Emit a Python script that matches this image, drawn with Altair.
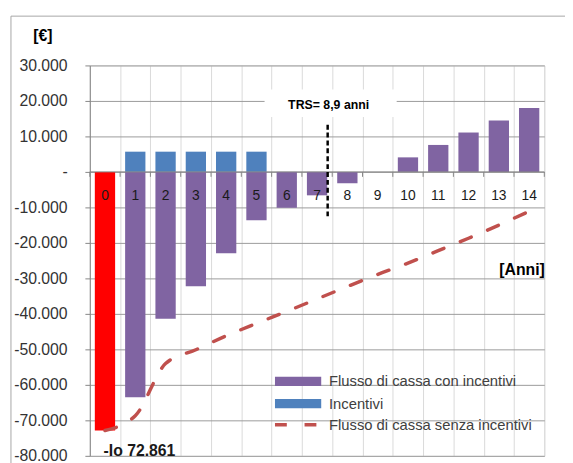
import altair as alt
import pandas as pd

# ---------------- data ----------------
years = list(range(15))
flusso_con_incentivi = [-72861, -63500, -41400, -32200, -22900, -13600, -10100,
                        -6600, -3200, 0, 4100, 7600, 11100, 14500, 18000]
incentivi = [0, 5700, 5700, 5700, 5700, 5700, 0, 0, 0, 0, 0, 0, 0, 0, 0]
flusso_senza_incentivi = [-72861, -68700, -54000, -50100, -46200, -42700, -39300,
                          -35800, -32300, -28900, -25700, -22200, -18700, -15000, -11100]
y_ticks = [30000, 20000, 10000, 0, -10000, -20000, -30000, -40000,
           -50000, -60000, -70000, -80000]
series_names = ["Flusso di cassa con incentivi", "Incentivi", "Flusso di cassa senza incentivi"]
series_colors = ["#8064A2", "#4F81BD", "#C0504D"]
investment_color = "#FF0000"
trs_text = ["TRS= 8,9 anni"]
trs_marker_x = [7.35]
trs_label_y = [18800]
trs_line_y = [13300, -12500]
x_unit_label = "[Anni]"
y_unit_label = "[€]"

FONT = "Liberation Sans"
BAR_HALF = 0.335

# ---------------- tables ----------------
bar_rows = []
for yr, c, inc in zip(years, flusso_con_incentivi, incentivi):
    if yr == 0:
        continue
    if c != 0:
        bar_rows.append({"year": yr, "v": c, "serie": series_names[0]})
    if inc != 0:
        bar_rows.append({"year": yr, "v": inc, "serie": series_names[1]})
bars_df = pd.DataFrame(bar_rows)
inv_df = pd.DataFrame({"year": [years[0]], "v": [flusso_con_incentivi[0]]})
inv_df["label"] = "-Io " + inv_df["v"].abs().map(lambda n: f"{n:,}".replace(",", "."))
line_df = pd.DataFrame({"year": years, "v": flusso_senza_incentivi,
                        "serie": [series_names[2]] * len(years)})
lab_df = pd.DataFrame({"year": years, "t": [str(y) for y in years], "zero": 0})
bounds = [y - 0.5 for y in years] + [years[-1] + 0.5]
bounds_df = pd.DataFrame({"b": bounds, "zero": 0})
zero_df = pd.DataFrame({"lo": [bounds[0]], "hi": [bounds[-1]], "zero": [0]})
trs_df = pd.DataFrame({"x": trs_marker_x, "y": trs_label_y, "t": trs_text,
                       "ytop": [trs_line_y[0]], "ybot": [trs_line_y[1]]})
frame_df = pd.DataFrame({"k": [1]})

# ---------------- scales / axes ----------------
xs = alt.Scale(domain=[bounds[0], bounds[-1]], nice=False, zero=False)
ys = alt.Scale(domain=[y_ticks[-1], y_ticks[0]], nice=False, zero=False)

x_axis = alt.Axis(values=bounds, labels=False, ticks=False, domain=False, grid=True,
                  gridColor="#D9D9D9", gridWidth=1, title=x_unit_label,
                  titleX=461, titleY=-189, titleAlign="right", titleBaseline="middle",
                  titleFontSize=16, titleFontWeight="bold", titleColor="#000000",
                  titleFont=FONT)
y_axis = alt.Axis(values=y_ticks, grid=True, gridColor="#9A9A9A", gridWidth=1,
                  domain=True, domainColor="#868686", tickColor="#868686", tickSize=5,
                  labelPadding=18, labelFontSize=16, labelColor="#333333", labelFont=FONT,
                  labelExpr="datum.value == 0 ? '-' : (datum.value < 0 ? '-' : '') + replace(format(abs(datum.value), ','), ',', '.')",
                  title=y_unit_label, titleAngle=0, titleX=-48, titleY=-30,
                  titleAlign="center", titleBaseline="middle", titleFontSize=16,
                  titleFontWeight="bold", titleColor="#000000", titleFont=FONT)


def X(f):
    return alt.X(f, type="quantitative", scale=xs, axis=x_axis)


def Y(f):
    return alt.Y(f, type="quantitative", scale=ys, axis=y_axis)


# ---------------- layers ----------------
frame = alt.Chart(frame_df).mark_rect(fillOpacity=0, stroke="#A6A6A6", strokeWidth=1).encode(
    x=alt.value(-80), x2=alt.value(520), y=alt.value(-50), y2=alt.value(430))

bars = alt.Chart(bars_df).transform_calculate(
    x0=f"datum.year - {BAR_HALF}", x1=f"datum.year + {BAR_HALF}", z="0"
).mark_rect().encode(
    x=X("x0"), x2="x1", y=Y("v"), y2="z:Q",
    color=alt.Color("serie:N", scale=alt.Scale(domain=series_names[:2], range=series_colors[:2]),
                    legend=alt.Legend(orient="none", legendX=185, legendY=313, title=None,
                                      symbolType="M-1,-1H9V1H-1Z", symbolSize=88,
                                      symbolStrokeWidth=0, labelOffset=42.6, rowPadding=6.5,
                                      labelFontSize=15, labelFont=FONT, labelColor="#404040",
                                      labelLimit=400, padding=0)))

inv = alt.Chart(inv_df).transform_calculate(
    x0=f"datum.year - {BAR_HALF}", x1=f"datum.year + {BAR_HALF}", z="0"
).mark_rect(color=investment_color).encode(x=X("x0"), x2="x1", y=Y("v"), y2="z:Q")

zero_line = alt.Chart(zero_df).mark_rule(color="#868686", strokeWidth=1).encode(
    x=X("lo"), x2="hi", y=Y("zero"))

ticks = alt.Chart(bounds_df).mark_rule(color="#868686", strokeWidth=1, y2Offset=5).encode(
    x=X("b"), y=Y("zero"), y2="zero:Q")

xlabels = alt.Chart(lab_df).mark_text(font=FONT, fontSize=14, color="#1A1A1A",
                                      baseline="middle", align="center", dy=24.5).encode(
    x=X("year"), y=Y("zero"), text="t:N")

line = alt.Chart(line_df).mark_line(color=series_colors[2], strokeWidth=3.5, strokeCap="round",
                                    interpolate="monotone").encode(
    x=X("year"), y=Y("v"),
    strokeDash=alt.StrokeDash("serie:N", scale=alt.Scale(domain=[series_names[2]], range=[[12, 18]]),
                              legend=alt.Legend(orient="none", legendX=185, legendY=357, title=None,
                                                symbolType="M-1,0H9", symbolSize=88,
                                                symbolStrokeColor=series_colors[2],
                                                symbolStrokeWidth=3.5, labelOffset=42.6,
                                                labelFontSize=15, labelFont=FONT,
                                                labelColor="#404040", labelLimit=400, padding=0)))

trs_box = alt.Chart(trs_df).mark_rect(fill="white", xOffset=-64, x2Offset=70,
                                      yOffset=-16, y2Offset=12).encode(
    x=X("x"), x2="x", y=Y("y"), y2="y")
trs_lab = alt.Chart(trs_df).mark_text(font=FONT, fontSize=12.5, fontWeight="bold", color="#000000",
                                      align="center", baseline="middle", dx=1).encode(
    x=X("x"), y=Y("y"), text="t:N")
trs_rule = alt.Chart(trs_df).mark_rule(color="#000000", strokeWidth=2.5, strokeDash=[5, 3]).encode(
    x=X("x"), y=Y("ytop"), y2="ybot")

io_lab = alt.Chart(inv_df).mark_text(font=FONT, fontSize=16, fontWeight="bold", color="#1A1A1A",
                                     align="left", baseline="middle", dx=-1.5, dy=21).encode(
    x=X("year"), y=Y("v"), text="label:N")

chart = alt.layer(frame, bars, inv, zero_line, ticks, xlabels, line,
                  trs_box, trs_lab, trs_rule, io_lab).properties(
    width=461, height=396,
    autosize=alt.AutoSizeParams(type="none"),
    padding={"left": 83, "top": 55, "right": 21, "bottom": 4},
    background="white",
).configure_view(stroke="#A0A0A0", strokeWidth=1).configure(font=FONT)

chart.save("out.html", embed_options={"renderer": "svg", "actions": False})
